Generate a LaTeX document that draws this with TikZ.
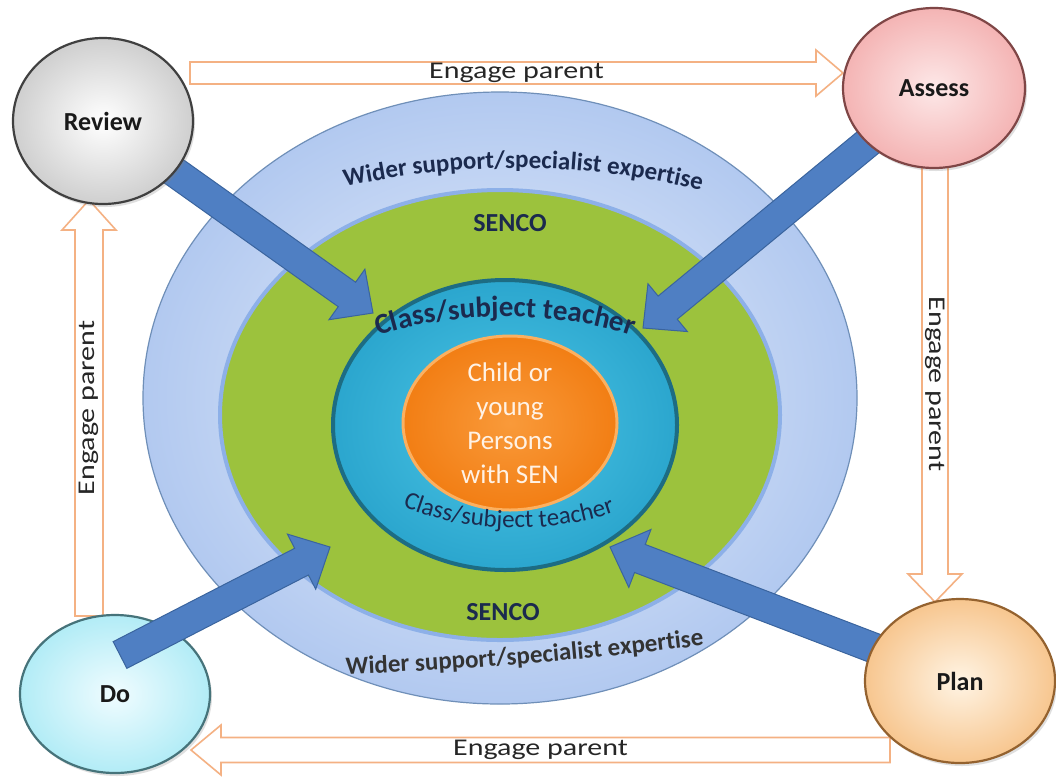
\documentclass[tikz,border=0pt]{standalone}
\usepackage{fontspec}
\setmainfont{Carlito}
\newfontfamily\widefont[FakeStretch=1.25]{Carlito}
\usetikzlibrary{shapes.geometric,calc,decorations.text,shadows}
\definecolor{navy}{HTML}{1B2A4E}
\definecolor{arrowor}{HTML}{F4B183}
\definecolor{bluear}{HTML}{4F7FC3}
\definecolor{bluedk}{HTML}{3A649E}
\definecolor{outerin}{HTML}{E8EFFB}
\definecolor{outerout}{HTML}{B2C9F0}
\definecolor{outerdr}{HTML}{6F8FB8}
\definecolor{greenf}{HTML}{9CC23D}
\definecolor{greenhalo}{HTML}{8DB0E8}
\definecolor{cyanin}{HTML}{4CC6E6}
\definecolor{cyanout}{HTML}{2BA6CE}
\definecolor{cyandr}{HTML}{1D6C83}
\definecolor{orin}{HTML}{F99A3A}
\definecolor{orout}{HTML}{F27E14}
\definecolor{ordr}{HTML}{FBB060}
\definecolor{revin}{HTML}{FFFFFF}
\definecolor{revout}{HTML}{CFCFCF}
\definecolor{revdr}{HTML}{404040}
\definecolor{assin}{HTML}{FDE8E8}
\definecolor{assout}{HTML}{F4B4B4}
\definecolor{assdr}{HTML}{7F4646}
\definecolor{doin}{HTML}{F0FCFF}
\definecolor{doout}{HTML}{B2ECF6}
\definecolor{dodr}{HTML}{46737A}
\definecolor{plin}{HTML}{FFF4E4}
\definecolor{plout}{HTML}{F7C68F}
\definecolor{pldr}{HTML}{94622F}
\pgfdeclarelayer{back}
\pgfdeclarelayer{mid}
\pgfdeclarelayer{front}
\pgfsetlayers{back,mid,main,front}
\newcommand{\mkarrow}[7]{%
  \coordinate (#7) at ($(#3)!#6!(#2)$);
  \path[#1] ($(#2)!#4!90:(#3)$) -- ($(#7)!#4!90:(#3)$) -- ($(#7)!#5!90:(#3)$) -- (#3)
    -- ($(#7)!#5!-90:(#3)$) -- ($(#7)!#4!-90:(#3)$) -- ($(#2)!#4!-90:(#3)$) -- cycle;}
\tikzset{
  circ/.style={ellipse, inner sep=0pt, line width=2.2pt,
    font=\bfseries\fontsize{26}{26}\selectfont, text=black!90,
    drop shadow={opacity=0.25, shadow xshift=2pt, shadow yshift=-3pt}},
  ring/.style={ellipse, inner sep=0pt},
  hollow/.style={draw=arrowor, fill=white, line width=1.6pt, line join=miter},
  bluearr/.style={draw=bluedk, fill=bluear, line width=1pt, line join=miter},
  eplabel/.style={font=\widefont\fontsize{24}{24}\selectfont, text=black!85, inner sep=0pt},
  ringlbl/.style={font=\bfseries\fontsize{26}{26}\selectfont, text=navy, inner sep=0pt},
}
\begin{document}
\begin{tikzpicture}[x=1pt,y=-1pt]
\useasboundingbox (0,0) rectangle (1056,780);
\begin{pgfonlayer}{back}
  \fill[white] (0,0) rectangle (1056,780);
  \node[ring, draw=outerdr, line width=1.2pt, inner color=outerin, outer color=outerout,
        minimum width=714pt, minimum height=612pt] (outer) at (500,398) {};
  \node[ring, draw=greenhalo, line width=4pt, fill=greenf,
        minimum width=560pt, minimum height=450pt] (green) at (500,415) {};
  \node[ring, draw=cyandr, line width=4pt, inner color=cyanin, outer color=cyanout,
        minimum width=344pt, minimum height=290pt] (cyan) at (505,425) {};
  \node[ring, draw=ordr, line width=3pt, inner color=orin, outer color=orout,
        minimum width=214pt, minimum height=174pt, align=center, text=white!90!orange,
        font=\fontsize{27}{34}\selectfont] (core) at (510,423)
        {Child or\\young\\Persons\\with SEN};
  \node[ringlbl] (sencoT) at (510,223) {SENCO};
  \node[ringlbl] (sencoB) at (503,612) {SENCO};
  \path[decorate, decoration={text along path, text align=center, text color=navy,
     text={|\bfseries\fontsize{25}{25}\selectfont|Wider support/specialist expertise}}]
     (332,190) .. controls (458,160) and (588,160) .. (714,194);
  \path[decorate, decoration={text along path, text align=center, text color=black!80,
     text={|\bfseries\fontsize{25}{25}\selectfont|Wider support/specialist expertise}}]
     (336,675) .. controls (460,670) and (590,660) .. (714,644);
  \path[decorate, decoration={text along path, text align=center, text color=navy,
     text={|\bfseries\fontsize{29}{29}\selectfont|Class/subject teacher}}]
     (360,343) .. controls (438,308) and (572,308) .. (650,343);
  \path[decorate, decoration={text along path, text align=center, text color=navy,
     text={|\fontsize{25}{25}\selectfont|Class/subject teacher}}]
     (388,500) .. controls (458,536) and (562,536) .. (630,506);
\end{pgfonlayer}
% circles
\node[circ, draw=revdr, inner color=revin, outer color=revout,
      minimum width=180pt, minimum height=166pt] (review) at (103,121) {Review};
\node[circ, draw=assdr, inner color=assin, outer color=assout,
      minimum width=182pt, minimum height=160pt] (assess) at (934,88) {Assess};
\node[circ, draw=dodr, inner color=doin, outer color=doout,
      minimum width=190pt, minimum height=158pt] (do) at (115,694) {Do};
\node[circ, draw=pldr, inner color=plin, outer color=plout,
      minimum width=190pt, minimum height=164pt] (plan) at (960,681) {Plan};
% arrow end points
\coordinate (tR) at ($(cyan.center)+(-132,-112)$);
\coordinate (tA) at ($(cyan.center)+(138,-97)$);
\coordinate (tD) at ($(cyan.center)+(-175,122)$);
\coordinate (tP) at ($(cyan.center)+(105,122)$);
\coordinate (sD) at ($(do.center)+(5,-39)$);
\coordinate (topS) at ($(review.center)+(87,-48)$);
\coordinate (topE) at ($(assess.center)+(-91,-15)$);
\coordinate (rgtS) at ($(assess.center)+(1,78)$);
\coordinate (rgtE) at ($(plan.center)+(-25,-79)$);
\coordinate (botS) at ($(plan.center)+(-70,69)$);
\coordinate (botE) at ($(do.center)+(76,56)$);
\coordinate (lftS) at ($(do.center)+(-26,-78)$);
\coordinate (lftE) at ($(review.center)+(-14,79)$);
\begin{pgfonlayer}{mid}
  \mkarrow{hollow}{topS}{topE}{11pt}{23pt}{27pt}{hT}
  \mkarrow{hollow}{rgtS}{rgtE}{13pt}{27pt}{28pt}{hR}
  \mkarrow{hollow}{botS}{botE}{12.5pt}{25pt}{30pt}{hB}
  \mkarrow{hollow}{lftS}{lftE}{14pt}{27pt}{30pt}{hL}
  \mkarrow{bluearr}{review.center}{tR}{15pt}{31pt}{32pt}{bR}
  \mkarrow{bluearr}{assess.center}{tA}{15pt}{31pt}{32pt}{bA}
  \mkarrow{bluearr}{plan.center}{tP}{15pt}{31pt}{32pt}{bP}
\end{pgfonlayer}
\begin{pgfonlayer}{front}
  \mkarrow{bluearr}{sD}{tD}{15pt}{31pt}{32pt}{bD}
  \node[eplabel] (epT) at ($(topS)!0.5!(topE)$) {Engage parent};
  \node[eplabel] (epB) at ($(botS)!0.5!(botE)$) {Engage parent};
  \node[eplabel, rotate=-90] (epR) at ($(rgtS)!0.5!(rgtE)$) {Engage parent};
  \node[eplabel, rotate=90] (epL) at ($(lftS)!0.5!(lftE)$) {Engage parent};
\end{pgfonlayer}
\end{tikzpicture}
\end{document}
